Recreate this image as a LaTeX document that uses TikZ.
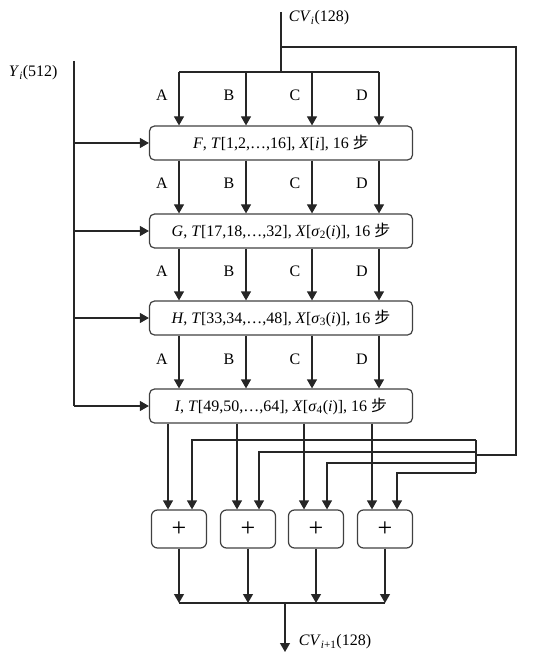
\documentclass[tikz,border=0pt]{standalone}
\usepackage{fontspec}
\setmainfont{Liberation Serif}
\newfontfamily\cjk{Noto Sans CJK SC}
\usetikzlibrary{positioning,arrows.meta}

\begin{document}
\begin{tikzpicture}[x=1pt,y=-1pt,line width=1.2pt,
    roundbox/.style={draw=black!75,rounded corners=5pt,minimum width=263pt,minimum height=34pt,inner sep=0pt,font=\fontsize{16}{18}\selectfont},
    addbox/.style={draw=black!75,rounded corners=6pt,minimum width=55pt,minimum height=38pt,inner sep=0pt,font=\fontsize{26}{26}\selectfont},
    arr/.style={draw=black!85,-{Triangle[length=9pt,width=10pt]}},
    wire/.style={draw=black!85},
    lbl/.style={font=\fontsize{16}{18}\selectfont}]

\useasboundingbox (0,0) rectangle (534,668);

% the four rounds
\node [roundbox] (R1) at (281,143) {\textit{F}, \textit{T}[1,2,…,16], \textit{X}[\textit{i}], 16 {\cjk 步}};
\node [roundbox] (R2) at (281,231) {\textit{G}, \textit{T}[17,18,…,32], \textit{X}[\textit{σ}\textsubscript{2}(\textit{i})], 16 {\cjk 步}};
\node [roundbox] (R3) at (281,318) {\textit{H}, \textit{T}[33,34,…,48], \textit{X}[\textit{σ}\textsubscript{3}(\textit{i})], 16 {\cjk 步}};
\node [roundbox] (R4) at (281,406) {\textit{I}, \textit{T}[49,50,…,64], \textit{X}[\textit{σ}\textsubscript{4}(\textit{i})], 16 {\cjk 步}};

% adders
\foreach \x [count=\k] in {179,248,316,385}
    \node [addbox] (S\k) at (\x,529) {+};

% columns A..D
\foreach \n/\x in {a/179,b/246,c/312,d/379}
    \coordinate (col\n) at (\x,0);

% CV_i input
\coordinate (cvin) at (281,12);
\coordinate (cvfork) at (281,47);
\coordinate (cvbus) at (281,72);
\node [lbl,anchor=west] (cvinlab) at (285,18) {\textit{CV}\textsubscript{\textit{i}}(128)};
\draw [wire] (cvin) -- (cvbus);
\draw [wire] (cola |- cvbus) -- (cold |- cvbus);
\foreach \n in {a,b,c,d}
    \draw [arr] (col\n |- cvbus) -- (col\n |- R1.north);
\foreach \i/\j in {1/2,2/3,3/4}
    \foreach \n in {a,b,c,d}
        \draw [arr] (col\n |- R\i.south) -- (col\n |- R\j.north);

% A B C D labels
\foreach \y [count=\k] in {95,183,271,359}
    \foreach \x/\t in {179/A,246/B,312/C,379/D}
        \node [lbl] (lab\t\k) at (\x-17,\y) {\t};

% message block Y_i
\coordinate (ytop) at (74,61);
\coordinate (ybot) at (74,406);
\node [lbl,anchor=west] (ylab) at (5,73) {\textit{Y}\textsubscript{\textit{i}}(512)};
\draw [wire] (ytop) -- (ybot);
\foreach \i in {1,...,4}
    \draw [arr] (ytop |- R\i.west) -- (R\i.west);

% round outputs into adders
\foreach \x [count=\k] in {168,237,304,372} {
    \coordinate (out\k) at (\x,0);
    \draw [arr] (out\k |- R4.south) -- (out\k |- S\k.north);
}

% feedback of CV_i
\coordinate (fbcorner) at (516,47);
\coordinate (fbjoin) at (476,455);
\coordinate (fbtop) at (476,440);
\coordinate (fbbot) at (476,473);
\draw [wire] (cvfork) -- (fbcorner) -- (fbcorner |- fbjoin) -- (fbjoin);
\draw [wire] (fbtop) -- (fbbot);
\foreach \x/\y [count=\k] in {192/440,259/452,327/463,397/473} {
    \coordinate (fb\k) at (\x,\y);
    \draw [arr] (fbtop |- fb\k) -- (fb\k) -- (fb\k |- S\k.north);
}

% CV_{i+1} output
\coordinate (sumbus) at (285,603);
\coordinate (cvout) at (285,652);
\foreach \k in {1,...,4}
    \draw [arr] (S\k.south) -- (S\k.south |- sumbus);
\draw [wire] (S1.south |- sumbus) -- (S4.south |- sumbus);
\draw [arr] (sumbus) -- (cvout);
\node [lbl,anchor=west] (cvoutlab) at (295,642) {\textit{CV}\textsubscript{\textit{i}+1}(128)};
\end{tikzpicture}
\end{document}
